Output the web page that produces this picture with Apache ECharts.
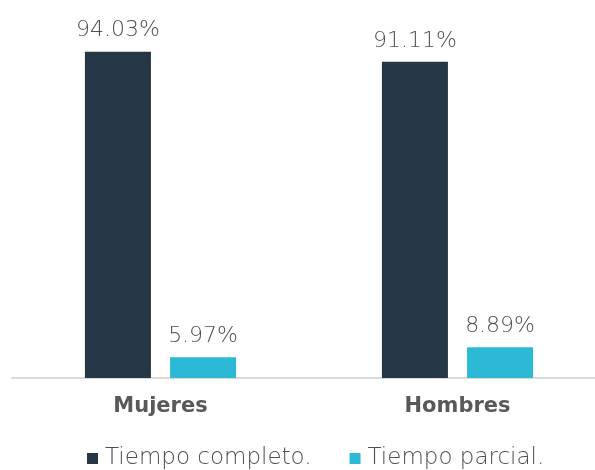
<!DOCTYPE html>
<html>
<head>
<meta charset="utf-8">
<script src="https://cdn.jsdelivr.net/npm/echarts@6/dist/echarts.min.js"></script>
<style>
	html, body { margin: 0; padding: 0; background: #fff; }
	#chart { width: 595px; height: 470px; }
</style>
</head>
<body>
<div id="chart"></div>
<script>
const categories = ["Mujeres", "Hombres"];
const seriesNames = ["Tiempo completo.", "Tiempo parcial."];
const completo = [94.03, 91.11];
const parcial = [5.97, 8.89];

const textColor = "#595959";
const lightFont = "'DejaVu Sans'";
const myChart = echarts.init(document.getElementById("chart"));

const labelStyle = {
	show: true,
	position: "top",
	distance: 10,
	fontFamily: lightFont,
	fontWeight: 200,
	fontStyle: "normal",
	fontSize: 22,
	color: "#505050",
	formatter: (p) => p.value.toFixed(2) + "%"
};

const option = {
	animation: false,
	grid: {
		left: 12,
		width: 594,
		top: 31,
		bottom: 92,
		outerBoundsMode: "none"
	},
	legend: {
		top: 442,
		left: 82,
		icon: "rect",
		itemWidth: 11,
		itemHeight: 11,
		itemGap: 38,
		textStyle: {
			fontFamily: lightFont,
			fontWeight: 200,
			fontStyle: "normal",
			fontSize: 23,
			color: "#505050",
			padding: [0, 0, 0, 2]
		},
		data: seriesNames
	},
	xAxis: {
		type: "category",
		data: categories,
		axisTick: { show: false },
		axisLine: { lineStyle: { color: "#d9d9d9", width: 2 } },
		axisLabel: {
			margin: 18,
			fontFamily: "DejaVu Sans",
			fontWeight: "bold",
			fontSize: 21,
			color: textColor
		}
	},
	yAxis: {
		type: "value",
		min: 0,
		max: 100,
		show: false,
		splitLine: { show: false }
	},
	series: [
		{
			name: seriesNames[0],
			type: "bar",
			data: completo,
			barWidth: 66,
			barGap: "29%",
			itemStyle: { color: "#253646" },
			label: labelStyle
		},
		{
			name: seriesNames[1],
			type: "bar",
			data: parcial,
			barWidth: 66,
			itemStyle: { color: "#2bb9d5" },
			label: labelStyle
		}
	]
};

myChart.setOption(option);
</script>
</body>
</html>
